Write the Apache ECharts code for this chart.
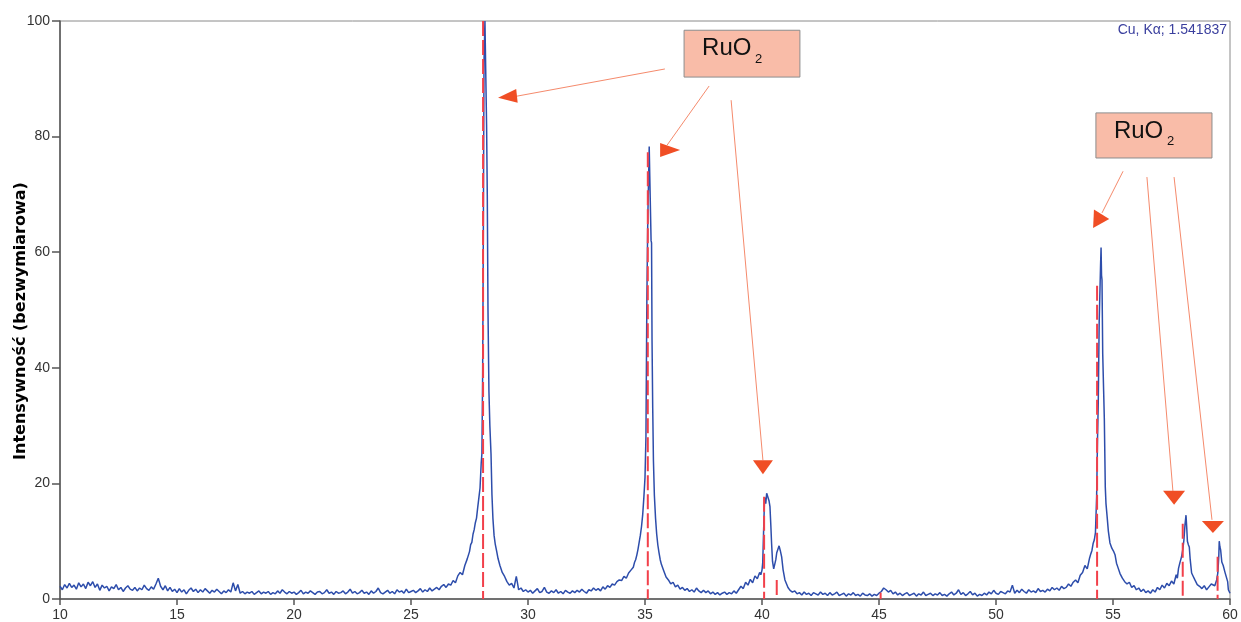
<!DOCTYPE html>
<html>
<head>
<meta charset="utf-8">
<title>XRD RuO2</title>
<script src="https://cdn.jsdelivr.net/npm/echarts@6/dist/echarts.min.js"></script>
<style>
  html, body { margin: 0; padding: 0; background: #fff; }
  #chart { width: 1241px; height: 622px; }
</style>
</head>
<body>
<div id="chart"></div>
<script>
// step of the background stretches (deg 2theta)
const scanStep = 0.1;

// background 10.0 - 26.6
const bgFrom10 = [
  2.2, 1.6, 2.5, 1.9, 2.7, 2.0, 2.4, 1.7, 2.8, 2.1, 2.6,
  1.8, 2.9, 2.3, 3.0, 2.0, 2.6, 1.5, 2.4, 1.9, 2.2,
  1.4, 2.1, 1.8, 2.5, 1.6, 2.0, 1.3, 1.9, 2.3, 1.7,
  1.5, 2.0, 1.4, 1.9, 1.6, 2.4, 1.8, 1.5, 2.1, 1.7,
  2.6, 3.6, 2.2, 1.6, 2.3, 1.4, 2.0, 1.3, 1.7, 1.1,
  1.8, 1.2, 1.6, 0.9, 1.5, 1.9, 1.3, 1.7, 1.1, 1.6,
  1.2, 1.8, 1.4, 1.0, 1.5, 1.2, 1.7, 1.3, 0.9, 1.4,
  1.1, 1.6, 1.2, 2.8, 1.4, 2.5, 1.0, 1.3, 0.9, 1.2,
  1.0, 1.3, 0.8, 1.1, 1.4, 0.9, 1.2, 1.0, 1.3, 0.8,
  1.1, 0.9, 1.4, 1.0, 1.6, 1.2, 0.9, 1.3, 1.0, 1.2,
  0.8, 1.1, 1.5, 0.9, 1.2, 1.0, 1.4, 1.1, 0.8, 1.2,
  1.3, 0.9, 1.1, 1.6, 1.0, 1.2, 0.8, 1.3, 1.0, 1.1,
  1.4, 0.9, 1.2, 1.7, 1.0, 1.3, 0.9, 1.1, 1.5, 1.0,
  1.2, 0.8, 1.4, 1.0, 1.3, 1.9, 1.1, 0.9, 1.2, 1.5,
  1.0, 1.3, 0.9, 1.6, 1.2, 1.4, 1.0, 1.7, 1.1, 1.3,
  1.5, 1.1, 1.4, 1.8, 1.2, 1.6, 1.3, 1.9, 1.4, 1.7,
  2.0, 1.6, 2.2, 2.5, 2.0, 2.6
];

// (110) reflection, 26.7 - 29.9
const peak28 = [
  [26.7, 2.4], [26.8, 3.2], [26.9, 2.8], [27.0, 4.0], [27.1, 4.6], [27.2, 4.2],
  [27.3, 5.8], [27.4, 6.9], [27.5, 8.2], [27.55, 9.4], [27.6, 9.8], [27.65, 11.2],
  [27.7, 12.0], [27.75, 13.2], [27.8, 14.0], [27.85, 15.8], [27.9, 17.5], [27.95, 19.2],
  [28.0, 23.5], [28.03, 25.1], [28.06, 38], [28.09, 62], [28.12, 93], [28.16, 100],
  [28.2, 100], [28.23, 82], [28.26, 70], [28.29, 50], [28.33, 36], [28.37, 30],
  [28.42, 25], [28.46, 18], [28.5, 14], [28.55, 11], [28.6, 9.5], [28.66, 8.3],
  [28.72, 7.0], [28.8, 5.8], [28.9, 4.6], [29.0, 3.9], [29.1, 3.0], [29.2, 2.4],
  [29.3, 2.7], [29.4, 1.9], [29.5, 3.9], [29.55, 2.8], [29.6, 1.6], [29.7, 1.9],
  [29.8, 1.3], [29.9, 1.6]
];

// background 30.0 - 33.9
const bgFrom30 = [
  1.2, 1.5, 1.0, 1.4, 1.8, 1.1, 1.3, 2.0, 1.2, 1.0,
  1.4, 1.1, 1.6, 1.0, 1.3, 0.9, 1.5, 1.2, 1.0, 1.4,
  1.1, 1.5, 1.2, 1.7, 1.3, 1.0, 1.6, 1.4, 1.9, 1.5,
  1.8, 1.4, 2.1, 1.7, 2.3, 2.0, 2.6, 2.4, 3.0, 3.3
];

// (101) reflection, 34.0 - 36.5
const peak35 = [
  [34.0, 3.2], [34.1, 3.9], [34.2, 3.6], [34.3, 4.5], [34.4, 5.0], [34.5, 5.5],
  [34.55, 6.3], [34.6, 6.8], [34.65, 7.6], [34.7, 8.6], [34.75, 9.8], [34.8, 11.0],
  [34.85, 12.5], [34.9, 14.5], [34.95, 17.5], [35.0, 21], [35.04, 28], [35.08, 52],
  [35.12, 66], [35.16, 74], [35.18, 78.3], [35.2, 74], [35.24, 74.2], [35.26, 62],
  [35.28, 61.6], [35.3, 45], [35.33, 33], [35.36, 24], [35.4, 18], [35.45, 14],
  [35.5, 11.2], [35.55, 9.3], [35.6, 8.0], [35.65, 6.8], [35.7, 6.0], [35.8, 4.9],
  [35.9, 3.8], [36.0, 3.3], [36.1, 2.6], [36.2, 2.9], [36.3, 2.1], [36.4, 2.4],
  [36.5, 1.7]
];

// background 36.6 - 38.9
const bgFrom366 = [
  2.0, 1.5, 1.8, 1.3, 1.6, 1.2, 1.9, 1.4, 1.1, 1.5,
  1.1, 1.4, 0.9, 1.2, 0.8, 1.1, 0.7, 1.0, 1.2, 0.8,
  1.1, 0.9, 1.4, 1.0
];

// (200)/(111) reflections, 39.0 - 41.5
const peak40 = [
  [39.0, 1.6], [39.1, 2.2], [39.2, 1.8], [39.3, 2.9], [39.4, 2.4], [39.5, 3.4],
  [39.6, 2.8], [39.7, 4.0], [39.8, 3.5], [39.9, 4.6], [39.95, 4.2], [40.0, 5.0],
  [40.03, 6.2], [40.07, 12], [40.11, 17.6], [40.16, 16.5], [40.2, 18.3], [40.25, 18.4],
  [40.3, 17], [40.34, 16], [40.38, 12.5], [40.41, 9.6], [40.45, 6.5], [40.5, 5.2],
  [40.54, 5.0], [40.59, 6.8], [40.63, 8.0], [40.68, 8.6], [40.73, 9.2], [40.78, 8.4],
  [40.84, 7.3], [40.9, 5.1], [40.98, 3.3], [41.05, 2.6], [41.11, 2.0], [41.2, 1.5],
  [41.3, 1.2], [41.4, 1.4], [41.5, 0.9]
];

// background 41.6 - 52.9
const bgFrom416 = [
  1.1, 0.7, 1.2, 0.8, 1.0, 0.6, 1.1, 0.9, 0.7, 1.2,
  0.8, 1.0, 0.6, 1.1, 0.7, 0.9, 1.2, 0.6, 0.8, 1.0,
  0.5, 0.9, 0.7, 1.1, 0.6, 0.8, 0.5, 1.0, 0.7, 0.6,
  0.9, 0.5, 0.8, 0.6, 1.0, 1.3, 1.9, 1.6, 1.2, 1.5,
  0.9, 1.2, 0.7, 1.0, 0.6, 0.9, 1.1, 0.6, 0.8, 1.0,
  0.5, 0.9, 0.7, 1.2, 0.6, 0.8, 1.0, 0.6, 0.9, 0.7,
  1.1, 0.6, 0.8, 0.5, 0.9, 1.2, 0.7, 1.0, 1.6, 0.8,
  1.1, 0.6, 0.9, 1.3, 0.7, 1.0, 0.5, 0.8, 0.6, 1.0,
  0.7, 1.2, 0.9, 1.5, 1.0, 0.8, 1.3, 1.1, 0.9, 1.4,
  1.2, 2.4, 1.0, 1.5, 1.1, 1.7, 1.3, 1.0, 1.6, 1.2,
  1.4, 1.1, 1.8, 1.3, 1.5, 1.2, 1.7, 1.4, 2.0, 1.6,
  1.9, 1.5, 2.2, 1.8
];

// (211), (220), (002) reflections, 53.0 - 60.0
const peak54to60 = [
  [53.0, 2.0], [53.1, 2.6], [53.2, 2.2], [53.3, 2.9], [53.4, 3.3], [53.5, 2.8],
  [53.6, 4.1], [53.7, 4.6], [53.8, 5.8], [53.9, 5.2], [54.0, 7.1], [54.05, 7.8],
  [54.1, 8.4], [54.15, 9.6], [54.2, 10.2], [54.25, 11.5], [54.3, 17.7], [54.34, 28],
  [54.37, 34], [54.41, 48], [54.44, 53], [54.47, 58], [54.49, 60.8], [54.51, 56],
  [54.53, 55.2], [54.56, 42.5], [54.6, 36], [54.63, 31], [54.67, 19.4], [54.7, 16.5],
  [54.75, 14.2], [54.8, 11.8], [54.87, 9.7], [54.95, 8.8], [55.02, 8.3], [55.09, 7.6],
  [55.15, 6.2], [55.2, 5.6], [55.3, 4.4], [55.4, 3.6], [55.5, 3.0], [55.6, 2.6],
  [55.7, 2.9], [55.8, 2.0], [55.9, 2.3], [56.0, 1.6], [56.1, 1.9], [56.2, 1.3],
  [56.3, 1.7], [56.4, 1.1], [56.5, 1.4], [56.6, 1.0], [56.7, 1.6], [56.8, 1.2],
  [56.9, 2.0], [57.0, 1.6], [57.1, 2.4], [57.2, 1.9], [57.3, 2.7], [57.4, 2.3],
  [57.5, 3.1], [57.6, 2.6], [57.7, 4.2], [57.75, 3.6], [57.8, 5.3], [57.86, 6.3],
  [57.93, 7.3], [57.98, 8.5], [58.03, 10.2], [58.08, 13.0], [58.12, 14.5], [58.15, 12.4],
  [58.18, 10.0], [58.22, 9.4], [58.26, 9.0], [58.3, 6.8], [58.36, 4.5], [58.43, 3.9],
  [58.5, 3.3], [58.6, 2.5], [58.7, 2.2], [58.8, 1.8], [58.9, 2.3], [59.0, 1.6],
  [59.1, 2.1], [59.2, 2.6], [59.28, 2.8], [59.35, 2.3], [59.43, 3.3], [59.48, 4.5],
  [59.52, 7.3], [59.54, 10.0], [59.57, 9.0], [59.6, 8.5], [59.65, 6.4], [59.71, 5.8],
  [59.78, 4.7], [59.86, 4.5], [59.9, 3.0], [59.93, 1.6], [60.0, 1.0]
];

// RuO2 reference pattern (stick positions and relative heights)
const refAngles = [28.08, 35.12, 40.09, 40.63, 45.07, 54.32, 57.98, 59.47];
const refHeights = [100, 77.3, 17.7, 3.3, 1.1, 54.2, 13.0, 7.3];

const xTicks = { min: 10, max: 60, step: 5 };
const yTicks = { min: 0, max: 100, step: 20 };

// annotations, in 2theta / intensity units
const labelBoxes = [
  [36.67, 98.4, 41.62, 90.3],
  [54.27, 84.1, 59.23, 76.3]
];
const arrowLines = [
  [35.85, 91.7, 29.53, 87.0],
  [37.74, 88.75, 35.94, 78.5],
  [38.68, 86.3, 40.04, 24.0],
  [55.43, 74.0, 54.53, 66.8],
  [56.45, 73.0, 57.56, 18.7],
  [57.61, 73.0, 59.23, 13.7]
];
// tip x, tip y, pointing angle (deg, screen), head length, half width
const arrowHeads = [
  [28.72, 86.7, 174, 19, 7],
  [36.50, 77.7, 0, 20, 7],
  [40.04, 21.6, 90, 14, 10],
  [54.15, 64.2, 122, 16, 9],
  [57.61, 16.3, 90, 14, 11],
  [59.27, 11.4, 90, 12, 11]
];

function stepped(start, values) {
  return values.map((v, i) => [+(start + i * scanStep).toFixed(2), v]);
}

const pattern = [].concat(
  stepped(10.0, bgFrom10),
  peak28,
  stepped(30.0, bgFrom30),
  peak35,
  stepped(36.6, bgFrom366),
  peak40,
  stepped(41.6, bgFrom416),
  peak54to60
);
const sticks = refAngles.map((a, i) => [a, refHeights[i]]);

const labelFont = '"Liberation Sans", Arial, sans-serif';
const chart = echarts.init(document.getElementById('chart'), null, { renderer: 'canvas' });

const option = {
  animation: false,
  backgroundColor: '#ffffff',
  grid: {
    left: 60, right: 11, top: 21, bottom: 23,
    containLabel: false,
    outerBoundsMode: 'none',
    show: true, borderColor: '#8a8a8a', borderWidth: 1
  },
  xAxis: {
    type: 'value',
    min: xTicks.min, max: xTicks.max, interval: xTicks.step,
    axisLine: { onZero: false, lineStyle: { color: '#555', width: 1.5 } },
    axisTick: { show: true, length: 6, lineStyle: { color: '#555', width: 1.5 } },
    axisLabel: { color: '#333', fontSize: 14, fontFamily: labelFont, margin: 9 },
    splitLine: { show: false }
  },
  yAxis: {
    type: 'value',
    min: yTicks.min, max: yTicks.max, interval: yTicks.step,
    name: 'Intensywność (bezwymiarowa)',
    nameLocation: 'middle',
    nameRotate: 90,
    nameGap: 31,
    nameMoveOverlap: false,
    nameTextStyle: {
      color: '#000', fontSize: 16, fontWeight: 'bold',
      fontFamily: '"DejaVu Sans", Verdana, sans-serif',
      padding: [0, 22, 0, 0]
    },
    axisLine: { show: true, lineStyle: { color: '#555', width: 1.5 } },
    axisTick: { show: true, length: 8, lineStyle: { color: '#555', width: 1.5 } },
    axisLabel: { color: '#333', fontSize: 14, fontFamily: labelFont, margin: 10 },
    splitLine: { show: false }
  },
  series: [
    {
      name: 'pomiar',
      type: 'line',
      data: pattern,
      showSymbol: false,
      symbol: 'none',
      z: 2,
      lineStyle: { color: '#2d4dab', width: 1.5 }
    },
    {
      name: 'RuO2 wzorzec',
      type: 'custom',
      data: sticks,
      z: 3,
      renderItem: function (params, api) {
        const top = api.coord([api.value(0), api.value(1)]);
        const base = api.coord([api.value(0), 0]);
        return {
          type: 'line',
          shape: { x1: top[0], y1: top[1], x2: base[0], y2: base[1] },
          style: { stroke: '#f2404a', lineWidth: 2, lineDash: [15, 4] }
        };
      }
    }
  ]
};
chart.setOption(option);

function px(x, y) {
  return chart.convertToPixel({ gridIndex: 0 }, [x, y]);
}

const graphics = [];
arrowLines.forEach(l => {
  const a = px(l[0], l[1]);
  const b = px(l[2], l[3]);
  graphics.push({
    type: 'line', z: 10,
    shape: { x1: a[0], y1: a[1], x2: b[0], y2: b[1] },
    style: { stroke: '#f58a6c', lineWidth: 1 }
  });
});
arrowHeads.forEach(h => {
  const tip = px(h[0], h[1]);
  const ang = h[2] * Math.PI / 180;
  const cx = tip[0] - h[3] * Math.cos(ang);
  const cy = tip[1] - h[3] * Math.sin(ang);
  const nx = -Math.sin(ang) * h[4];
  const ny = Math.cos(ang) * h[4];
  graphics.push({
    type: 'polygon', z: 11,
    shape: { points: [tip, [cx + nx, cy + ny], [cx - nx, cy - ny]] },
    style: { fill: '#f04e25' }
  });
});
labelBoxes.forEach(bx => {
  const a = px(bx[0], bx[1]);
  const b = px(bx[2], bx[3]);
  graphics.push({
    type: 'rect', z: 12,
    shape: { x: a[0], y: a[1], width: b[0] - a[0], height: b[1] - a[1] },
    style: { fill: '#f9bca8', stroke: '#8c8c8c', lineWidth: 1 }
  });
  graphics.push({
    type: 'text', z: 13, x: a[0] + 18, y: a[1] + 18.5,
    style: { text: 'RuO', fontSize: 24, fontFamily: labelFont, fill: '#111', verticalAlign: 'middle' }
  });
  graphics.push({
    type: 'text', z: 13, x: a[0] + 71, y: a[1] + 29,
    style: { text: '2', fontSize: 13, fontFamily: labelFont, fill: '#111', verticalAlign: 'middle' }
  });
});
graphics.push({
  type: 'text', z: 13, right: 14, top: 23,
  style: { text: 'Cu, Kα; 1.541837', fontSize: 14, fontFamily: labelFont, fill: '#3a3f9e' }
});

chart.setOption({ graphic: graphics });
</script>
</body>
</html>
